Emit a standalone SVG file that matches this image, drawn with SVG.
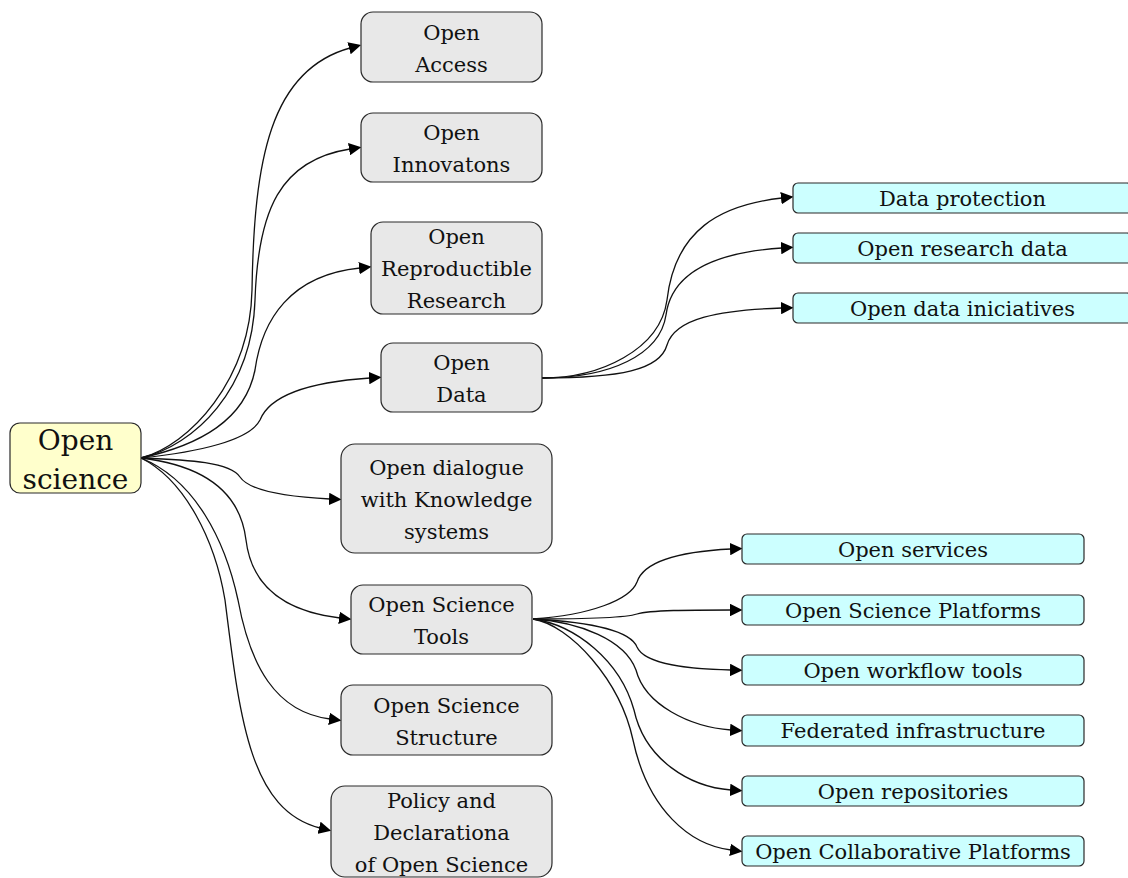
<svg xmlns="http://www.w3.org/2000/svg" width="1128" height="878" viewBox="0 0 1128 878">
  <style>
    .box { stroke: #2a2a2a; stroke-width: 1.2; }
    .root { fill: #ffffcc; }
    .topic { fill: #e8e8e8; }
    .leaf { fill: #ccffff; }
    text { font-family: "DejaVu Serif", "Liberation Serif", serif; font-size: 21px; fill: #111; text-anchor: middle; }
    .big { font-size: 28px; }
    .edge { fill: none; stroke: #111; stroke-width: 1.3; marker-end: url(#arrow); }
  </style>
  <defs>
    <marker id="arrow" viewBox="0 0 10 10" refX="0.8" refY="5" markerWidth="12.5" markerHeight="12.5" markerUnits="userSpaceOnUse" orient="auto">
      <path d="M0,0 L10,5 L0,10 z" fill="#000"/>
    </marker>
  </defs>

  <!-- connectors -->
  <g id="connectors">
    <!-- from Open science -->
    <path class="edge" d="M141,458 C190,445 250,380 252,290 C254,160 270,70 350,48"/>
    <path class="edge" d="M141,458 C195,445 252,390 255,300 C258,210 280,160 350,149"/>
    <path class="edge" d="M141,458 C200,445 245,420 255,370 C262,320 290,275 360,268"/>
    <path class="edge" d="M141,458 C200,452 250,440 260,420 C270,395 310,382 370,378"/>
    <path class="edge" d="M141,458 C190,460 230,462 240,477 C250,492 290,497 330,499"/>
    <path class="edge" d="M141,458 C200,465 240,490 246,540 C252,590 290,612 340,618"/>
    <path class="edge" d="M141,458 C195,480 225,540 238,600 C250,665 275,712 330,719"/>
    <path class="edge" d="M141,458 C185,480 215,540 225,600 C240,720 250,810 320,828"/>
    <!-- from Open Data -->
    <path class="edge" d="M542,378 C600,378 660,350 667,300 C675,230 720,205 782,198"/>
    <path class="edge" d="M542,378 C610,378 660,355 666,315 C672,270 720,252 782,248"/>
    <path class="edge" d="M542,378 C620,378 660,370 667,345 C675,318 720,310 782,308"/>
    <!-- from Open Science Tools -->
    <path class="edge" d="M533,619 C590,615 630,600 637,582 C645,558 690,551 731,549"/>
    <path class="edge" d="M533,619 C580,619 625,618 637,614 C650,610 690,610 731,610"/>
    <path class="edge" d="M533,619 C590,622 630,630 637,647 C645,665 690,669 731,670"/>
    <path class="edge" d="M533,619 C580,622 625,640 636,670 C645,705 690,727 731,730"/>
    <path class="edge" d="M533,619 C575,625 620,660 634,710 C645,760 690,787 731,790"/>
    <path class="edge" d="M533,619 C570,625 620,680 633,740 C648,810 690,845 731,850"/>
  </g>

  <!-- root -->
  <g id="open-science">
    <rect class="box root" x="10" y="423" width="131" height="70" rx="10"/>
    <text class="big" x="75.5" y="450">Open</text>
    <text class="big" x="75.5" y="489">science</text>
  </g>

  <!-- topics -->
  <g id="open-access">
    <rect class="box topic" x="361" y="12" width="181" height="70" rx="12"/>
    <text x="451.5" y="40">Open</text>
    <text x="451.5" y="72">Access</text>
  </g>
  <g id="open-innovatons">
    <rect class="box topic" x="361" y="113" width="181" height="69" rx="12"/>
    <text x="451.5" y="140">Open</text>
    <text x="451.5" y="172">Innovatons</text>
  </g>
  <g id="open-reproductible-research">
    <rect class="box topic" x="371" y="222" width="171" height="92" rx="12"/>
    <text x="456.5" y="244">Open</text>
    <text x="456.5" y="276">Reproductible</text>
    <text x="456.5" y="308">Research</text>
  </g>
  <g id="open-data">
    <rect class="box topic" x="381" y="343" width="161" height="69" rx="12"/>
    <text x="461.5" y="370">Open</text>
    <text x="461.5" y="402">Data</text>
  </g>
  <g id="open-dialogue">
    <rect class="box topic" x="341" y="444" width="211" height="109" rx="14"/>
    <text x="446.5" y="475">Open dialogue</text>
    <text x="446.5" y="507">with Knowledge</text>
    <text x="446.5" y="539">systems</text>
  </g>
  <g id="open-science-tools">
    <rect class="box topic" x="351" y="585" width="181" height="69" rx="12"/>
    <text x="441.5" y="612">Open Science</text>
    <text x="441.5" y="644">Tools</text>
  </g>
  <g id="open-science-structure">
    <rect class="box topic" x="341" y="685" width="211" height="70" rx="12"/>
    <text x="446.5" y="713">Open Science</text>
    <text x="446.5" y="745">Structure</text>
  </g>
  <g id="policy-and-declarationa">
    <rect class="box topic" x="331" y="786" width="221" height="91" rx="14"/>
    <text x="441.5" y="808">Policy and</text>
    <text x="441.5" y="840">Declarationa</text>
    <text x="441.5" y="872">of Open Science</text>
  </g>

  <!-- Open Data leaves -->
  <g id="data-protection">
    <rect class="box leaf" x="793" y="183" width="339" height="30" rx="5"/>
    <text x="962.5" y="206">Data protection</text>
  </g>
  <g id="open-research-data">
    <rect class="box leaf" x="793" y="233" width="339" height="30" rx="5"/>
    <text x="962.5" y="256">Open research data</text>
  </g>
  <g id="open-data-iniciatives">
    <rect class="box leaf" x="793" y="293" width="339" height="30" rx="5"/>
    <text x="962.5" y="316">Open data iniciatives</text>
  </g>

  <!-- Open Science Tools leaves -->
  <g id="open-services">
    <rect class="box leaf" x="742" y="534" width="342" height="30" rx="5"/>
    <text x="913" y="557">Open services</text>
  </g>
  <g id="open-science-platforms">
    <rect class="box leaf" x="742" y="595" width="342" height="30" rx="5"/>
    <text x="913" y="618">Open Science Platforms</text>
  </g>
  <g id="open-workflow-tools">
    <rect class="box leaf" x="742" y="655" width="342" height="30" rx="5"/>
    <text x="913" y="678">Open workflow tools</text>
  </g>
  <g id="federated-infrastructure">
    <rect class="box leaf" x="742" y="715" width="342" height="31" rx="5"/>
    <text x="913" y="738">Federated infrastructure</text>
  </g>
  <g id="open-repositories">
    <rect class="box leaf" x="742" y="776" width="342" height="30" rx="5"/>
    <text x="913" y="799">Open repositories</text>
  </g>
  <g id="open-collaborative-platforms">
    <rect class="box leaf" x="742" y="836" width="342" height="30" rx="5"/>
    <text x="913" y="859">Open Collaborative Platforms</text>
  </g>
</svg>
